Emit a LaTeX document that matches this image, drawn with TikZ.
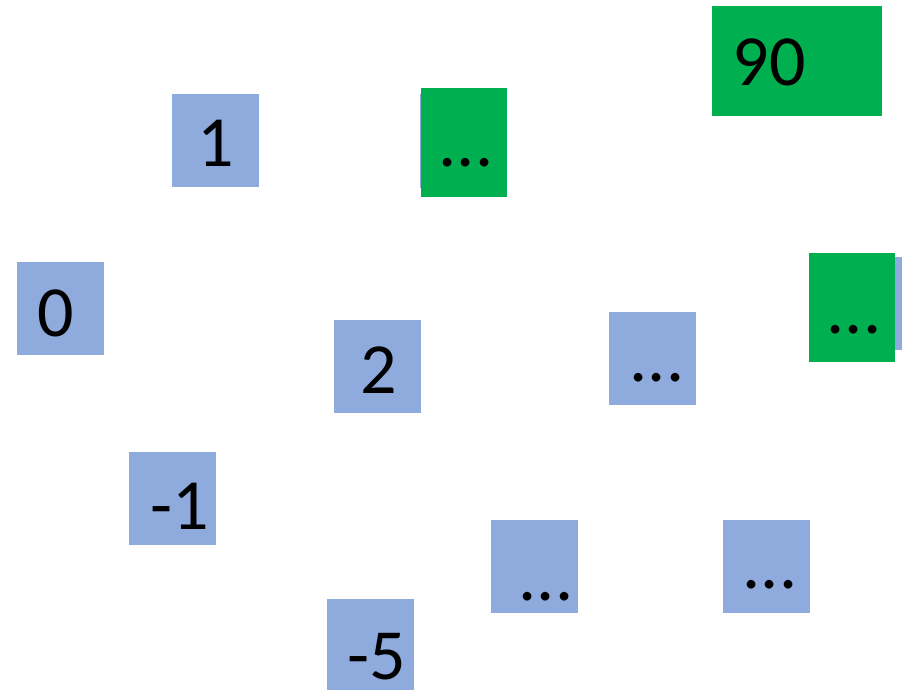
\documentclass[tikz,border=0pt]{standalone}
\usepackage{fontspec}
\setmainfont{Carlito}
\usepackage{tikz}
\usetikzlibrary{positioning}

\definecolor{cellblue}{HTML}{8FAADC}
\definecolor{cellgreen}{HTML}{00B050}

\begin{document}
\begin{tikzpicture}[x=1pt, y=-1pt]
        % Stiluri
        \tikzstyle{cell} = [fill=cellblue, draw=none, inner sep=0pt, minimum width=87pt, minimum height=93pt]
        \tikzstyle{hit} = [fill=cellgreen, draw=none, inner sep=0pt]
        \tikzstyle{val} = [anchor=base, inner sep=0pt, font=\fontsize{72}{72}\selectfont]

        \useasboundingbox (0,0) rectangle (902,690);

        % --- Celule albastre ---
        \node [cell] (c0) at (60.5,308) {};
        \node [cell] (c1) at (215,140.5) {};
        \node [cell] (cdotsA) at (463,141) {};
        \node [cell] (c2) at (377.5,366.5) {};
        \node [cell] (cdotsB) at (652.5,358.5) {};
        \node [cell] (cdotsC) at (858,303.5) {};
        \node [cell] (cm1) at (172,498.5) {};
        \node [cell] (cdotsD) at (534,566.5) {};
        \node [cell] (cdotsE) at (766.5,566.5) {};
        \node [cell] (cm5) at (370.5,645.5) {};

        % --- Celule verzi (deasupra) ---
        \node [hit, minimum width=86pt, minimum height=109pt] (gdotsA) at (464,142.5) {};
        \node [hit, minimum width=86pt, minimum height=109pt] (gdotsC) at (852,307.5) {};
        \node [hit, minimum width=170pt, minimum height=110pt] (g90) at (797,61) {};

        % --- Valori ---
        \node [val] (t0) at (56,336) {0};
        \node [val] (t1) at (216,166) {1};
        \node [val] (t2) at (379,393) {2};
        \node [val] (tm1) at (180,529) {-1};
        \node [val] (tm5) at (377,679) {-5};
        \node [val] (t90) at (769,86) {90};
        \node [val] (tdA) at (466,166) {...};
        \node [val] (tdC) at (854,333) {...};
        \node [val] (tdB) at (657,381) {...};
        \node [val] (tdD) at (546,600) {...};
        \node [val] (tdE) at (770,588) {...};

    \end{tikzpicture}
\end{document}
